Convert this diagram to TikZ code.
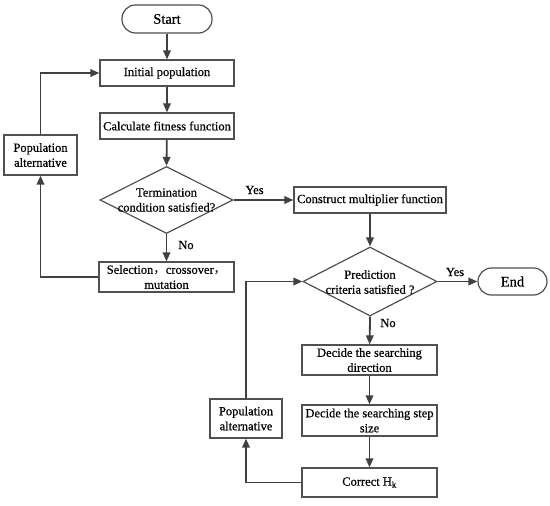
\documentclass[tikz,border=0pt]{standalone}
\usepackage{fontspec}
\setmainfont{Liberation Serif}[FakeBold=0.6]
\newfontfamily\cjk{Noto Sans CJK SC}
\usetikzlibrary{shapes.geometric,arrows.meta}
\definecolor{ln}{HTML}{404040}
\definecolor{bd}{HTML}{505050}
\tikzset{
  boxnode/.style={draw=bd,line width=1.2pt,rectangle,inner sep=0pt,align=center,font=\fontsize{12.5}{15}\selectfont},
  termnode/.style={draw=bd,line width=1.2pt,rectangle,rounded corners=13.5pt,inner sep=0pt,font=\fontsize{14.5}{16}\selectfont},
  dianode/.style={draw=bd,line width=1.2pt,diamond,inner sep=0pt},
  txtnode/.style={align=center,inner sep=0pt,font=\fontsize{12.5}{15}\selectfont},
  lbl/.style={inner sep=0pt,font=\fontsize{12.5}{15}\selectfont},
  conn/.style={draw=ln,line width=1.8pt,-{Triangle[length=9pt,width=7.5pt]}},
}
\begin{document}
\begin{tikzpicture}[x=1pt,y=-1pt]
\useasboundingbox (0,0) rectangle (550,506);
\node[termnode,minimum width=90pt,minimum height=28pt] (start) at (167,19) {Start};
\node[boxnode,minimum width=134pt,minimum height=26pt] (init) at (167,73) {Initial population};
\node[boxnode,minimum width=134pt,minimum height=26pt] (calc) at (167,126) {Calculate fitness function};
\node[dianode,minimum width=133pt,minimum height=67pt] (d1) at (166.5,200) {};
\node[txtnode] (d1t) at (166.5,200) {Termination\\condition satisfied?};
\node[boxnode,minimum width=135pt,minimum height=30pt] (sel) at (166.5,277) {Selection{\cjk ，}crossover{\cjk ，}\\mutation};
\node[boxnode,minimum width=73pt,minimum height=40pt] (pa1) at (40.5,155) {Population\\alternative};
\node[boxnode,minimum width=152pt,minimum height=26pt] (cons) at (370,200) {Construct multiplier function};
\node[dianode,minimum width=134pt,minimum height=69pt] (d2) at (370,281.5) {};
\node[txtnode] (d2t) at (370,282) {Prediction\\criteria satisfied ?};
\node[termnode,minimum width=69pt,minimum height=27pt] (end) at (512.5,281.5) {End};
\node[boxnode,minimum width=135pt,minimum height=30pt] (dir) at (369.5,360) {Decide the searching\\direction};
\node[boxnode,minimum width=135pt,minimum height=31pt] (step) at (369.5,420.5) {Decide the searching step\\size};
\node[boxnode,minimum width=135pt,minimum height=29pt] (corr) at (369.5,482.5) {Correct H\textsubscript{k}};
\node[boxnode,minimum width=72pt,minimum height=39pt] (pa2) at (246,418.5) {Population\\alternative};
\node[lbl] (yes1) at (254.5,190) {Yes};
\node[lbl] (no1) at (186,245) {No};
\node[lbl] (yes2) at (455,272) {Yes};
\node[lbl] (no2) at (388,323) {No};
\draw[conn] (start) -- (init);
\draw[conn] (init) -- (calc);
\draw[conn] (calc) -- (d1.north);
\draw[conn] (d1.south) -- (sel);
\draw[conn] (sel.west) -| (pa1.south);
\draw[conn] (pa1.north) |- (init.west);
\draw[conn] (d1.east) -- (cons.west);
\draw[conn] (cons) -- (d2.north);
\draw[conn] (d2.east) -- (end.west);
\draw[conn] (d2.south) -- (dir);
\draw[conn] (dir) -- (step);
\draw[conn] (step) -- (corr);
\draw[conn] (corr.west) -| (pa2.south);
\draw[conn] (pa2.north) |- (d2.west);
\end{tikzpicture}
\end{document}
